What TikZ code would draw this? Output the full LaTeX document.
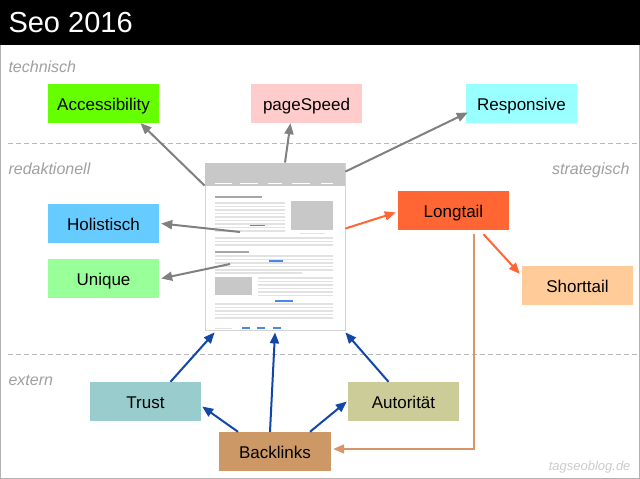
\documentclass[tikz,border=0pt]{standalone}
\usepackage{fontspec}
\setmainfont{Liberation Sans}
\usetikzlibrary{arrows.meta}

\definecolor{zonegray}{HTML}{A0A0A0}
\definecolor{arrowgray}{HTML}{808080}
\definecolor{arroworange}{HTML}{FF6633}
\definecolor{arrowblue}{HTML}{1148A8}
\definecolor{arrowtan}{HTML}{D8956A}
\definecolor{pagegray}{HTML}{C8C8C8}
\definecolor{pageline}{HTML}{E2E2E2}
\definecolor{linkblue}{HTML}{4A86E8}

\tikzset{
  box/.style={minimum width=111pt, minimum height=39pt, inner sep=0pt,
    text height=13pt, text depth=0pt, font=\fontsize{17}{20}\selectfont},
  zone/.style={text=zonegray, font=\itshape\fontsize{16}{19}\selectfont},
  grayarrow/.style={draw=arrowgray, line width=2pt, -{Triangle[length=11pt,width=9pt]}},
  orangearrow/.style={draw=arroworange, line width=2pt, -{Triangle[length=11pt,width=9pt]}},
  bluearrow/.style={draw=arrowblue, line width=2pt, -{Triangle[length=11pt,width=9pt]}},
  tanarrow/.style={draw=arrowtan, line width=2pt, -{Triangle[length=11pt,width=9pt]}},
}

\begin{document}
\begin{tikzpicture}[x=1pt, y=-1pt]
  \useasboundingbox (0,0) rectangle (640,479);

  % background, title bar and frame
  \fill[white] (0,0) rectangle (640,479);
  \fill[black] (0,0) rectangle (640,45);
  \draw[gray!60, line width=1pt] (0.5,45) -- (0.5,478.5) -- (639.5,478.5) -- (639.5,45);
  \node[anchor=west, text=white, font=\fontsize{29}{34}\selectfont] (title) at (5,23) {Seo 2016};

  % zone separators
  \draw[gray!55, line width=0.8pt, dash pattern=on 5pt off 3pt] (8,143) -- (640,143);
  \draw[gray!55, line width=0.8pt, dash pattern=on 5pt off 3pt] (8,354) -- (640,354);

  % zone labels
  \node[zone, anchor=west] (technisch) at (5,67) {technisch};
  \node[zone, anchor=west] (redaktionell) at (5,169) {redaktionell};
  \node[zone, anchor=east] (strategisch) at (633,170) {strategisch};
  \node[zone, anchor=west] (extern) at (5,380) {extern};
  \node[anchor=east, text=gray!40, font=\itshape\fontsize{13}{15}\selectfont] (source) at (634,467) {tagseoblog.de};

  % the page
  \node[draw=pagegray!80, fill=white, line width=0.8pt, minimum width=140pt,
    minimum height=167pt, inner sep=0pt] (page) at (275,246.5) {};
  \fill[pagegray] (205,163) rectangle (345,186);
  \foreach \a/\b in {215/232, 240/258, 268/282, 292/310, 321/333}
    \draw[white, line width=1.5pt] (\a,183.5) -- (\b,183.5);

  % page content
  \draw[gray!70, line width=1.5pt] (215,197) -- (262,197);
  \foreach \y in {203,206.5,...,233}
    \draw[pageline, line width=1.5pt] (215,\y) -- (285,\y);
  \fill[pagegray] (291,201) rectangle (333,230);
  \draw[pageline, line width=1pt] (300,233) -- (325,233);
  \draw[linkblue, line width=1.5pt] (250,225.5) -- (265,225.5);
  \foreach \y in {238,241.5,245}
    \draw[pageline, line width=1.5pt] (215,\y) -- (333,\y);
  \draw[gray!70, line width=1.5pt] (215,252) -- (249,252);
  \foreach \y in {256,259.5,...,270}
    \draw[pageline, line width=1.5pt] (215,\y) -- (333,\y);
  \draw[pageline, line width=1.5pt] (215,273) -- (302,273);
  \draw[linkblue, line width=1.5pt] (269,261) -- (283,261);
  \fill[pagegray] (215,277) rectangle (252,295);
  \foreach \y in {278,281.5,...,296}
    \draw[pageline, line width=1.5pt] (258,\y) -- (333,\y);
  \draw[linkblue, line width=1.5pt] (275,301) -- (293,301);
  \foreach \y in {304,307.5,...,318}
    \draw[pageline, line width=1.5pt] (215,\y) -- (333,\y);
  \draw[pageline, line width=1pt] (215,328) -- (232,328);
  \foreach \a/\b in {242/250, 257/265, 273/281}
    \draw[linkblue, line width=1.5pt] (\a,328) -- (\b,328);

  % boxes
  \node[box, fill={rgb,255:red,102;green,255;blue,0}] (acc) at (103.5,103.5) {Accessibility};
  \node[box, fill={rgb,255:red,255;green,204;blue,204}] (speed) at (306.5,103.5) {pageSpeed};
  \node[box, fill={rgb,255:red,153;green,255;blue,255}] (resp) at (521.5,103.5) {Responsive};
  \node[box, fill={rgb,255:red,102;green,204;blue,255}] (holi) at (103.5,223.5) {Holistisch};
  \node[box, fill={rgb,255:red,153;green,255;blue,153}] (uniq) at (103.5,278.5) {Unique};
  \node[box, fill={rgb,255:red,255;green,102;blue,51}] (long) at (453.5,210.5) {Longtail};
  \node[box, fill={rgb,255:red,255;green,204;blue,153}] (short) at (577.5,285.5) {Shorttail};
  \node[box, fill={rgb,255:red,153;green,204;blue,204}] (trust) at (145.5,401.5) {Trust};
  \node[box, fill={rgb,255:red,204;green,204;blue,153}] (auto) at (403.5,401.5) {Autorität};
  \node[box, minimum width=112pt, fill={rgb,255:red,204;green,153;blue,102}] (back) at (275,451.5) {Backlinks};

  % gray arrows
  \coordinate (holistart) at (240,232);
  \coordinate (uniqstart) at (230,264);
  \draw[grayarrow] ([yshift=-23pt]page.north west) -- ([xshift=37pt]acc.south);
  \draw[grayarrow] ([xshift=10pt]page.north) -- ([xshift=-16pt]speed.south);
  \draw[grayarrow] ([yshift=-9pt]page.north east) -- ([xshift=2pt,yshift=-9pt]resp.west);
  \draw[grayarrow] (holistart) -- ([xshift=2pt]holi.east);
  \draw[grayarrow] (uniqstart) -- ([xshift=2pt]uniq.east);

  % orange arrows
  \draw[orangearrow] ([yshift=18pt]page.east) -- ([xshift=-2pt,yshift=-2pt]long.west);
  \draw[orangearrow] ([xshift=30pt,yshift=-4pt]long.south) -- ([xshift=-2pt,yshift=-8pt]short.north west);

  % blue arrows
  \draw[bluearrow] ([xshift=25pt]trust.north) -- ([xshift=10pt,yshift=-2pt]page.south west);
  \draw[bluearrow] ([xshift=-5pt]back.north) -- ([yshift=-2pt]page.south);
  \draw[bluearrow] ([xshift=-15pt]auto.north) -- ([yshift=-2pt]page.south east);
  \draw[bluearrow] ([xshift=-37pt]back.north) -- ([xshift=1pt,yshift=-5pt]trust.east);
  \draw[bluearrow] ([xshift=35pt]back.north) -- ([xshift=-1pt]auto.west);

  % longtail back to backlinks
  \draw[tanarrow] ([xshift=20pt,yshift=-4pt]long.south) |- ([xshift=2pt,yshift=2.5pt]back.east);
\end{tikzpicture}
\end{document}
